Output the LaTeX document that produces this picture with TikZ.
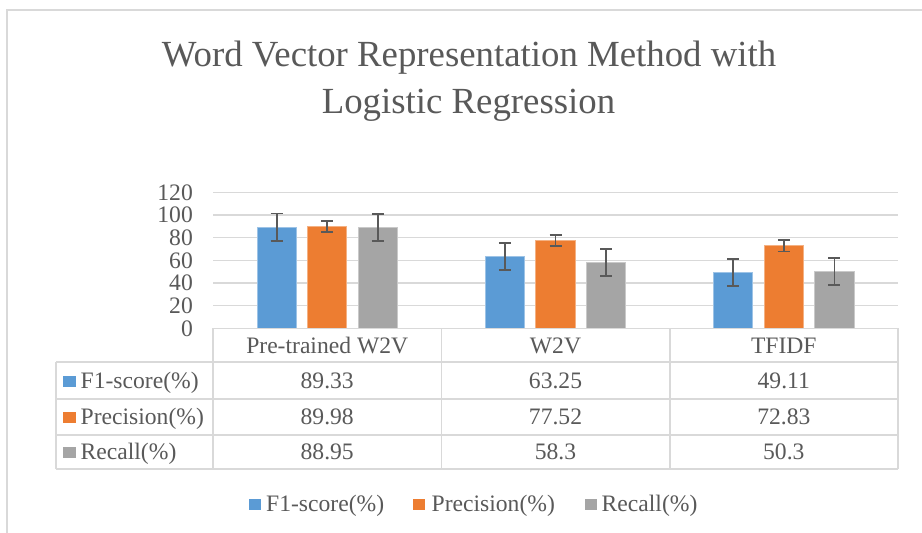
\documentclass[tikz,border=0pt]{standalone}
\usepackage{fontspec}
\setmainfont{Liberation Serif}
\definecolor{txt}{HTML}{595959}
\definecolor{gridc}{HTML}{D9D9D9}
\definecolor{cblue}{HTML}{5B9BD5}
\definecolor{corange}{HTML}{ED7D31}
\definecolor{cgray}{HTML}{A5A5A5}
\newcommand\mybar[4]{% center x, value, err, colour
  \fill[#4] ({#1-19.65},328.3) rectangle ({#1+19.65},{328.3-#2*1.1333});
  \draw[#4!60!white, line width=0.8] ({#1-19.65},328.3) -- ({#1-19.65},{328.3-#2*1.1333}) -- ({#1+19.65},{328.3-#2*1.1333}) -- ({#1+19.65},328.3);
  \draw[errbar] (#1,{328.3-(#2+#3)*1.1333}) -- (#1,{328.3-(#2-#3)*1.1333});
  \draw[errbar] ({#1-6},{328.3-(#2+#3)*1.1333}) -- ({#1+6},{328.3-(#2+#3)*1.1333});
  \draw[errbar] ({#1-6},{328.3-(#2-#3)*1.1333}) -- ({#1+6},{328.3-(#2-#3)*1.1333});
}
\begin{document}
\begin{tikzpicture}[x=1pt,y=-1pt,
  every node/.style={text=txt, inner sep=0pt},
  lbl/.style={font=\fontsize{23.6}{28}\selectfont},
  ttl/.style={font=\fontsize{36.8}{44}\selectfont},
  gridline/.style={draw=gridc, line width=1.4},
  tabline/.style={draw=gridc, line width=1.5},
  errbar/.style={draw=txt, line width=1.8},
  key/.style={minimum width=12.5pt, minimum height=11pt, inner sep=0pt}]
\useasboundingbox (0,0) rectangle (922,533);
\fill[white] (0,0) rectangle (922,533);
\draw[gridc, line width=1.3] (7,533) -- (7,10) -- (922,10);

% title
\node[ttl, anchor=base] (t1) at (469,66.5) {Word Vector Representation Method with};
\node[ttl, anchor=base] (t2) at (468.5,113) {Logistic Regression};

% grid and axis labels
\foreach \v in {0,20,...,120}{
  \draw[gridline] (213,{328.3-\v*1.1333}) -- (898,{328.3-\v*1.1333});
  \node[lbl, anchor=base east] (ax\v) at (193,{328.3-\v*1.1333+7.8}) {\v};
}

% bars
\mybar{276.6}{89.33}{12}{cblue}
\mybar{327.2}{89.98}{5}{corange}
\mybar{377.8}{88.95}{12}{cgray}
\mybar{504.9}{63.25}{12}{cblue}
\mybar{555.5}{77.52}{5}{corange}
\mybar{606.1}{58.3}{12}{cgray}
\mybar{733.2}{49.11}{12}{cblue}
\mybar{783.8}{72.83}{5}{corange}
\mybar{834.4}{50.3}{12}{cgray}

% table lines
\draw[tabline] (213,328.3) -- (898,328.3);
\foreach \y in {362,399,435,469}{ \draw[tabline] (56,\y) -- (898,\y); }
\foreach \x in {213,441.7,670,898}{ \draw[tabline] (\x,328.3) -- (\x,469); }
\draw[tabline] (56,362) -- (56,469);

% header
\node[lbl, anchor=base] (h1) at (327.2,353.5) {Pre-trained W2V};
\node[lbl, anchor=base] (h2) at (555.5,353.5) {W2V};
\node[lbl, anchor=base] (h3) at (783.8,353.5) {TFIDF};

% row labels
\node[key, fill=cblue] (k1) at (69.3,381) {};
\node[lbl, anchor=base west] (r1) at (80.5,388.3) {F1-score(\%)};
\node[key, fill=corange] (k2) at (69.3,417.5) {};
\node[lbl, anchor=base west] (r2) at (80.5,424.8) {Precision(\%)};
\node[key, fill=cgray] (k3) at (69.3,452.5) {};
\node[lbl, anchor=base west] (r3) at (80.5,459.8) {Recall(\%)};

% values
\node[lbl, anchor=base] (v11) at (327.2,388.3) {89.33};
\node[lbl, anchor=base] (v12) at (555.5,388.3) {63.25};
\node[lbl, anchor=base] (v13) at (783.8,388.3) {49.11};
\node[lbl, anchor=base] (v21) at (327.2,424.8) {89.98};
\node[lbl, anchor=base] (v22) at (555.5,424.8) {77.52};
\node[lbl, anchor=base] (v23) at (783.8,424.8) {72.83};
\node[lbl, anchor=base] (v31) at (327.2,459.8) {88.95};
\node[lbl, anchor=base] (v32) at (555.5,459.8) {58.3};
\node[lbl, anchor=base] (v33) at (783.8,459.8) {50.3};

% bottom legend
\node[key, fill=cblue] (lk1) at (255,504) {};
\node[lbl, anchor=base west] (l1) at (266,511.5) {F1-score(\%)};
\node[key, fill=corange] (lk2) at (419,504) {};
\node[lbl, anchor=base west] (l2) at (431.5,511.5) {Precision(\%)};
\node[key, fill=cgray] (lk3) at (591,504) {};
\node[lbl, anchor=base west] (l3) at (601.5,511.5) {Recall(\%)};
\end{tikzpicture}
\end{document}
